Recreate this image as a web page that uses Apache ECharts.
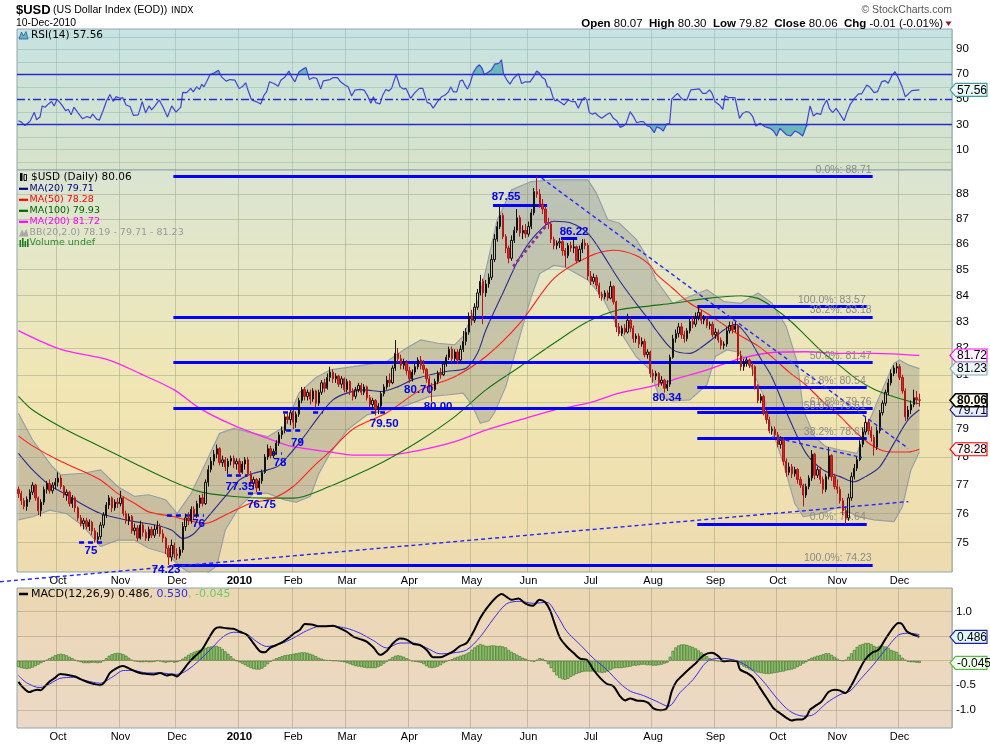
<!DOCTYPE html>
<html>
<head>
<meta charset="utf-8">
<script src="https://cdn.jsdelivr.net/npm/echarts@6.0.0/dist/echarts.min.js"></script>
<style>
html,body{margin:0;padding:0;background:#ffffff;}
#chart{width:990px;height:744px;}
</style>
</head>
<body>
<div id="chart"></div>
<script>
// ---------- time axis (trading-day slots) ----------
const totalSlots = 330;
const monthStarts = [14,36,56,78,97,116,138,160,180,202,224,246,268,289,311];
const monthLabels = ['Oct','Nov','Dec','2010','Feb','Mar','Apr','May','Jun','Jul','Aug','Sep','Oct','Nov','Dec'];

// ---------- tick levels ----------
const priceTicks = [75,76,77,78,79,80,81,82,83,84,85,86,87,88];
const rsiGridLevels = [0,10,20,40,60,80,90,100];
const rsiTickLabels = [10,90];
const rsiBands = [70,50,30];
const macdGridLevels = [-1,-0.5,0,0.5,1];
const macdTickLabels = [1,-0.5,-1];

// ---------- daily candles [open, close, low, high] ----------
const ohlc = [
[76.85,76.70,76.55,76.95],[76.70,76.45,76.30,76.80],[76.45,76.25,76.15,76.55],[76.25,76.50,76.10,76.60],[76.50,76.75,76.40,76.85],
[76.75,77.00,76.65,77.10],[77.00,76.55,76.45,77.05],[76.55,76.10,75.95,76.60],[76.10,76.40,75.90,76.50],[76.40,76.85,76.30,76.95],
[76.85,77.05,76.70,77.15],[77.05,76.80,76.70,77.20],[76.80,77.00,76.70,77.10],[77.00,77.10,76.85,77.25],[77.10,77.25,76.95,77.45],
[77.25,76.95,76.85,77.35],[76.95,76.65,76.55,77.00],[76.65,76.75,76.45,76.85],[76.75,76.35,76.25,76.80],[76.35,76.55,76.20,76.65],
[76.55,76.20,76.05,76.60],[76.20,75.85,75.75,76.25],[75.85,75.65,75.55,75.95],[75.65,75.75,75.45,75.85],[75.75,75.55,75.45,75.85],
[75.55,75.70,75.40,75.80],[75.70,75.40,75.25,75.75],[75.40,75.10,75.00,75.50],[75.10,75.20,75.00,75.35],[75.20,75.60,75.10,75.70],
[75.60,75.95,75.50,76.05],[75.95,76.30,75.85,76.40],[76.30,76.55,76.15,76.65],[76.55,76.20,76.05,76.60],[76.20,76.40,76.10,76.50],
[76.40,76.35,76.20,76.55],[76.35,76.55,76.25,76.80],[76.55,76.00,75.90,76.60],[76.00,75.75,75.65,76.10],[75.75,75.90,75.60,76.00],
[75.90,75.40,75.30,75.95],[75.40,75.50,75.25,75.65],[75.50,75.15,75.05,75.60],[75.15,75.60,75.10,75.75],[75.60,75.35,75.20,75.70],
[75.35,75.15,75.05,75.45],[75.15,75.45,75.05,75.55],[75.45,75.25,75.15,75.55],[75.25,75.45,75.15,75.60],[75.45,75.55,75.30,75.75],
[75.55,75.30,75.20,75.65],[75.30,75.15,75.00,75.45],[75.15,74.80,74.60,75.20],[74.80,74.50,74.23,74.90],[74.50,74.90,74.35,75.10],
[74.90,74.60,74.45,75.00],[74.60,74.55,74.40,74.80],[74.55,74.75,74.45,74.85],[74.75,75.55,74.65,75.70],[75.55,75.85,75.40,76.00],
[75.85,75.75,75.60,76.05],[75.75,76.15,75.65,76.25],[76.15,75.95,75.80,76.25],[75.95,76.35,75.85,76.45],[76.35,76.55,76.20,76.65],
[76.55,76.35,76.25,76.70],[76.35,77.10,76.30,77.20],[77.10,77.55,76.95,77.70],[77.55,77.85,77.45,78.00],[77.85,78.10,77.70,78.25],
[78.10,78.30,77.95,78.45],[78.30,77.80,77.70,78.35],[77.80,77.90,77.65,78.05],[77.90,77.65,77.50,78.00],[77.65,77.85,77.40,77.95],
[77.85,77.95,77.70,78.05],[77.95,77.75,77.60,78.05],[77.75,77.85,77.55,77.95],[77.85,77.45,77.35,77.95],[77.45,77.75,77.40,77.85],
[77.75,77.90,77.55,78.00],[77.90,77.40,77.30,78.00],[77.40,77.05,76.95,77.50],[77.05,77.20,76.85,77.30],[77.20,76.90,76.75,77.25],
[76.90,77.15,76.80,77.25],[77.15,77.45,77.05,77.55],[77.45,78.00,77.40,78.10],[78.00,78.30,77.90,78.45],[78.30,78.05,77.95,78.40],
[78.05,78.20,77.95,78.30],[78.20,78.50,78.10,78.60],[78.50,78.80,78.40,78.90],[78.80,78.95,78.65,79.10],[78.95,79.45,78.85,79.55],
[79.45,79.35,79.20,79.60],[79.35,79.60,79.15,79.70],[79.60,79.25,79.00,79.70],[79.25,79.55,79.05,79.65],[79.55,80.05,79.45,80.15],
[80.05,80.45,79.95,80.55],[80.45,80.20,80.05,80.55],[80.20,80.35,80.05,80.45],[80.35,80.10,79.90,80.45],[80.10,80.40,80.00,80.50],
[80.40,79.95,79.80,80.45],[79.95,80.35,79.85,80.45],[80.35,80.70,80.25,80.80],[80.70,80.50,80.35,80.85],[80.50,80.90,80.45,81.05],
[80.90,81.10,80.75,81.30],[81.10,80.85,80.70,81.20],[80.85,80.95,80.70,81.05],[80.95,80.65,80.55,81.00],[80.65,80.85,80.50,80.95],
[80.85,80.45,80.35,80.90],[80.45,80.75,80.35,80.85],[80.75,80.40,80.25,80.80],[80.40,80.20,80.05,80.50],[80.20,80.45,80.10,80.55],
[80.45,80.60,80.35,80.70],[80.60,80.35,80.25,80.70],[80.35,80.55,80.25,80.65],[80.55,80.15,80.05,80.60],[80.15,79.90,79.80,80.25],
[79.90,80.05,79.75,80.15],[80.05,79.75,79.50,80.10],[79.75,79.85,79.55,79.95],[79.85,80.30,79.80,80.40],[80.30,80.55,80.20,80.65],
[80.55,80.80,80.45,80.95],[80.80,80.70,80.55,81.05],[80.70,81.25,80.65,81.35],[81.25,81.80,81.15,82.30],[81.80,81.60,81.45,82.00],
[81.60,81.35,81.20,81.75],[81.35,81.45,81.20,81.60],[81.45,81.15,81.00,81.55],[81.15,80.85,80.70,81.30],[80.85,81.10,80.75,81.20],
[81.10,81.30,81.00,81.45],[81.30,81.55,81.20,81.65],[81.55,81.35,81.20,81.70],[81.35,81.20,81.05,81.55],[81.20,80.85,80.70,81.25],
[80.85,80.55,80.30,80.95],[80.55,80.45,80.00,80.70],[80.45,80.75,80.40,80.85],[80.75,81.05,80.65,81.15],[81.05,81.00,80.85,81.25],
[81.00,81.40,80.95,81.50],[81.40,81.65,81.30,81.75],[81.65,81.95,81.55,82.05],[81.95,81.60,81.45,82.05],[81.60,81.85,81.50,81.95],
[81.85,81.55,81.40,81.95],[81.55,81.95,81.45,82.10],[81.95,82.25,81.85,82.65],[82.25,82.60,82.10,82.75],[82.60,83.20,82.50,83.35],
[83.20,83.05,82.85,83.45],[83.05,83.55,82.95,83.70],[83.55,84.10,83.45,84.25],[84.10,84.55,84.00,84.80],[84.55,84.10,82.90,84.65],
[84.10,84.45,83.95,84.60],[84.45,84.70,84.30,84.85],[84.70,85.40,84.60,85.60],[85.40,86.20,85.30,86.40],[86.20,86.70,86.10,86.90],
[86.70,87.15,86.60,87.55],[87.15,86.30,86.20,87.25],[86.30,85.85,85.65,86.40],[85.85,85.45,85.25,85.95],[85.45,86.15,85.35,86.35],
[86.15,86.55,86.05,86.70],[86.55,87.05,86.45,87.40],[87.05,86.45,86.30,87.15],[86.45,86.55,86.20,86.75],[86.55,86.40,86.25,86.80],
[86.40,86.70,86.30,86.90],[86.70,87.25,86.60,87.40],[87.25,88.10,87.15,88.25],[88.10,88.00,87.85,88.71],[88.00,87.60,87.45,88.20],
[87.60,87.40,87.20,87.80],[87.40,86.85,86.70,87.50],[86.85,86.80,86.60,87.05],[86.80,86.20,86.05,86.90],[86.20,85.95,85.80,86.30],
[85.95,86.05,85.80,86.15],[86.05,86.10,85.85,86.25],[86.10,85.75,85.55,86.20],[85.75,85.55,85.10,85.85],[85.55,85.95,85.45,86.05],
[85.95,85.85,85.70,86.10],[85.85,85.90,85.65,86.22],[85.90,85.35,85.25,85.95],[85.35,85.80,85.30,85.95],[85.80,86.05,85.65,86.20],
[86.05,85.95,85.80,86.20],[85.95,84.75,84.60,86.05],[84.75,84.55,84.40,84.95],[84.55,84.70,84.45,84.85],[84.70,84.40,84.25,84.80],
[84.40,84.05,83.90,84.50],[84.05,83.95,83.80,84.15],[83.95,84.10,83.85,84.20],[84.10,83.90,83.80,84.20],[83.90,84.35,83.85,84.55],
[84.35,83.75,83.65,84.40],[83.75,82.80,82.60,83.80],[82.80,82.55,82.45,82.95],[82.55,82.75,82.45,82.85],[82.75,82.60,82.50,82.90],
[82.60,83.05,82.55,83.30],[83.05,82.75,82.60,83.15],[82.75,82.35,82.20,82.85],[82.35,82.45,82.20,82.55],[82.45,82.15,82.00,82.55],
[82.15,82.25,82.05,82.40],[82.25,81.75,81.65,82.35],[81.75,81.85,81.60,81.95],[81.85,81.05,80.90,81.90],[81.05,80.95,80.70,81.20],
[80.95,81.05,80.80,81.15],[81.05,80.70,80.55,81.10],[80.70,80.80,80.60,80.95],[80.80,80.50,80.34,80.85],[80.50,80.65,80.40,80.80],
[80.65,81.65,80.55,81.75],[81.65,82.35,81.60,82.50],[82.35,82.55,82.20,82.70],[82.55,82.80,82.40,82.95],[82.80,82.50,82.35,82.95],
[82.50,82.35,82.20,82.65],[82.35,82.65,82.25,82.75],[82.65,83.00,82.55,83.10],[83.00,82.90,82.75,83.20],[82.90,83.20,82.80,83.35],
[83.20,83.35,83.05,83.57],[83.35,83.05,82.90,83.45],[83.05,83.10,82.90,83.25],[83.10,82.85,82.75,83.20],[82.85,82.90,82.70,83.00],
[82.90,82.50,82.40,83.00],[82.50,82.60,82.35,82.75],[82.60,82.30,82.20,82.70],[82.30,82.10,81.95,82.40],[82.10,82.15,81.95,82.25],
[82.15,82.65,82.05,82.80],[82.65,82.85,82.55,83.00],[82.85,82.70,82.55,83.00],[82.70,82.85,82.60,83.00],[82.85,81.70,81.50,82.90],
[81.70,81.30,81.15,81.90],[81.30,81.45,81.15,81.60],[81.45,81.55,81.30,81.65],[81.55,81.35,81.25,81.60],[81.35,81.30,80.95,81.45],
[81.30,80.60,80.45,81.35],[80.60,80.05,79.95,80.65],[80.05,80.20,79.95,80.30],[80.20,79.60,79.50,80.25],[79.60,79.35,79.20,79.70],
[79.35,78.95,78.85,79.45],[78.95,79.00,78.80,79.10],[79.00,78.80,78.70,79.10],[78.80,78.45,78.35,78.90],[78.45,78.60,78.30,78.75],
[78.60,77.85,77.70,78.70],[77.85,77.45,77.30,77.95],[77.45,77.65,77.35,77.80],[77.65,77.40,77.25,77.75],[77.40,77.55,77.30,77.65],
[77.55,77.20,77.05,77.60],[77.20,77.00,76.90,77.30],[77.00,76.65,76.25,77.05],[76.65,76.95,76.55,77.05],[76.95,77.25,76.85,77.35],
[77.25,78.10,77.15,78.25],[78.10,77.35,77.20,78.15],[77.35,77.55,77.25,77.65],[77.55,77.20,77.05,77.65],[77.20,76.85,76.70,77.30],
[76.85,77.30,76.75,77.40],[77.30,78.05,77.20,78.35],[78.05,77.30,77.15,78.10],[77.30,76.95,76.85,77.40],[76.95,76.85,76.70,77.20],
[76.85,76.45,76.35,76.95],[76.45,76.10,75.95,76.55],[76.10,75.85,75.64,76.25],[75.85,76.55,75.75,76.70],[76.55,77.30,76.45,77.45],
[77.30,77.60,77.20,77.75],[77.60,77.90,77.50,78.00],[77.90,78.45,77.85,78.60],[78.45,78.90,78.35,79.05],[78.90,79.25,78.80,79.45],
[79.25,78.95,78.80,79.35],[78.95,78.70,78.55,79.10],[78.70,78.35,78.05,78.80],[78.35,78.95,78.25,79.10],[78.95,79.60,78.85,79.70],
[79.60,79.95,79.50,80.05],[79.95,80.35,79.85,80.45],[80.35,80.70,80.25,80.85],[80.70,81.05,80.60,81.20],[81.05,81.25,80.95,81.35],
[81.25,81.30,81.05,81.45],[81.30,80.90,80.80,81.40],[80.90,80.40,80.30,81.00],[80.40,79.45,79.30,80.50],[79.45,79.70,79.35,79.85],
[79.70,79.90,79.55,80.05],[79.90,80.15,79.80,80.45],[80.15,80.07,79.90,80.40],[80.07,80.06,79.82,80.30]
];

// ---------- overlays: [slot, value] ----------
const ma20 = [[0,78.13],[5,77.54],[11,77.0],[17,76.66],[23,76.30],[29,76.0],[33,75.89],[41,75.72],[48,75.61],[54,75.43],[58,75.14],[62,75.31],[66,75.78],[73,76.60],[78,77.18],[83,77.42],[88,77.54],[92,77.70],[99,78.49],[106,79.46],[111,80.07],[116,80.32],[122,80.44],[128,80.38],[134,80.56],[139,80.81],[145,80.99],[151,81.12],[158,81.24],[162,81.8],[165,82.68],[171,84.10],[177,85.50],[183,86.43],[189,86.91],[195,86.84],[201,86.43],[206,85.65],[212,84.60],[218,83.70],[223,83.0],[225,82.68],[231,81.93],[237,81.80],[243,82.18],[249,82.68],[253,82.9],[257,82.5],[262,81.6],[266,80.9],[272,79.4],[278,78.13],[284,77.54],[290,77.30],[295,77.12],[299,77.30],[304,77.65],[309,78.49],[314,79.34],[318,79.71]];
const ma50 = [[0,78.76],[5,78.40],[14,77.89],[23,77.48],[29,77.18],[35,76.71],[41,76.36],[46,76.06],[55,75.89],[59,75.78],[66,75.66],[73,75.95],[82,76.36],[90,76.54],[97,76.95],[104,77.65],[110,78.2],[118,79.0],[130,79.6],[142,80.44],[154,80.93],[165,81.68],[177,82.94],[189,84.66],[201,85.50],[210,85.76],[218,85.56],[223,85.17],[225,84.85],[231,84.27],[237,83.70],[243,83.32],[249,82.88],[255,82.45],[261,82.08],[266,81.66],[272,81.10],[278,80.61],[284,80.00],[290,79.47],[296,78.85],[302,78.37],[308,78.18],[314,78.18],[318,78.28]];
const ma100 = [[0,80.2],[5,79.7],[17,78.97],[29,78.37],[41,77.77],[52,77.24],[64,76.77],[76,76.60],[88,76.54],[97,76.54],[110,76.96],[123,77.54],[130,77.89],[142,78.61],[154,79.46],[165,80.44],[177,81.30],[189,82.18],[201,83.00],[212,83.45],[223,83.60],[231,83.70],[243,83.89],[255,83.99],[261,83.89],[266,83.57],[272,83.07],[278,82.45],[284,81.83],[290,81.33],[296,80.83],[302,80.46],[308,80.22],[314,80.03],[318,79.93]];
const ma200 = [[0,82.66],[15,81.95],[32,81.55],[43,81.04],[55,80.44],[64,79.76],[76,79.14],[88,78.67],[97,78.37],[110,78.18],[118,78.07],[130,78.07],[142,78.25],[154,78.55],[165,78.97],[177,79.34],[189,79.70],[201,79.95],[212,80.32],[223,80.56],[231,80.81],[243,81.18],[255,81.61],[267,81.84],[278,81.86],[290,81.80],[302,81.80],[318,81.72]];
const bbUpper = [[0,79.58],[5,78.61],[12,77.65],[15,77.36],[23,77.42],[29,77.54],[35,76.95],[41,76.60],[46,76.66],[52,76.48],[56,76.0],[61,76.71],[66,77.77],[71,78.85],[76,79.03],[83,78.85],[88,78.73],[94,79.10],[99,80.32],[105,80.9],[110,81.18],[118,81.30],[130,81.49],[136,81.93],[142,82.31],[148,82.18],[154,82.12],[157,82.45],[162,83.70],[165,84.99],[169,86.97],[174,88.17],[181,88.51],[189,88.58],[201,88.58],[204,88.04],[208,86.97],[212,86.84],[218,86.2],[221,85.65],[225,84.60],[231,83.70],[237,83.96],[243,84.22],[249,83.77],[255,83.70],[261,84.10],[266,83.70],[271,82.81],[275,81.43],[277,79.70],[281,78.73],[285,78.37],[290,78.25],[296,78.13],[299,78.97],[304,80.22],[309,81.43],[311,81.55],[314,81.37],[318,81.23]];
const bbLower = [[0,75.78],[5,75.89],[11,76.12],[17,76.0],[23,75.55],[29,74.86],[35,75.08],[41,75.08],[46,74.80],[52,74.63],[58,74.12],[64,73.75],[70,74.2],[73,75.43],[78,76.24],[83,76.71],[88,76.71],[94,76.48],[98,76.4],[103,76.60],[106,77.4],[110,78.13],[116,78.97],[123,79.52],[130,79.70],[134,79.76],[139,79.95],[145,80.19],[151,80.25],[157,80.32],[160,79.90],[163,79.22],[166,79.3],[168,79.6],[172,80.56],[177,82.45],[181,83.96],[184,84.85],[189,85.17],[193,85.10],[201,84.60],[206,83.96],[212,82.68],[218,81.68],[223,81.18],[226,80.22],[231,80.03],[237,80.07],[243,80.63],[246,81.68],[250,81.93],[254,81.85],[258,81.43],[263,80.22],[266,78.97],[270,77.77],[274,76.36],[277,75.89],[283,76.0],[290,76.24],[296,75.9],[302,75.78],[309,75.72],[312,76.24],[315,77.54],[318,78.19]];

// ---------- RSI(14) ----------
const rsi14 = [[0,32.9],[1.1,31.8],[2.3,29],[4.1,32.4],[5.6,39.7],[6.4,33.7],[7.6,35.8],[8.4,44.7],[9.4,43.7],[10.6,46.3],[11.7,48.2],[12.6,44.7],[13.7,50],[15.3,45.5],[16.7,40.8],[17.6,42],[18.6,37.6],[19.6,43.7],[21.1,39],[22.6,34.5],[24.3,36.3],[25.3,35],[26.2,38.2],[27.6,34.2],[28.6,33.4],[30,41.6],[31.1,48.7],[32.3,53.9],[33.5,48.2],[34.4,52.1],[35.9,50.8],[36.8,51.3],[38,45.5],[39.4,44.2],[40.6,37.1],[42.3,37.6],[43.7,48.2],[44.9,39],[46.1,44.7],[47,41.6],[48.2,44.7],[49.7,49.5],[51.1,43.4],[52.6,35.8],[54.1,44.7],[55.6,39.7],[57.3,43.7],[58,55.5],[59.4,55.3],[60.8,58.7],[61.7,56],[62.9,60],[63.9,57.9],[64.7,62.1],[65.5,60],[66.4,64],[67.6,69.7],[69,71],[70.6,73.2],[71.7,67.9],[73.3,64.5],[74.7,65.8],[76.4,65.3],[77.9,58.7],[79,60],[80.2,63.2],[81.1,56.8],[82.3,49.5],[83.9,48.2],[85.5,46.3],[86.7,53.4],[87.6,56],[88.6,64],[90.2,62.6],[91.7,60.5],[92.6,65.3],[94.1,67.9],[95.5,72.6],[96.4,67.9],[97.6,64],[99,71.8],[100.6,74.5],[101.5,75.3],[102.7,65.8],[104.1,67.4],[105.3,66.6],[106.7,58.2],[107.6,64.7],[110,65.8],[111.1,67.4],[112.6,67.4],[113.7,64],[115.3,61.3],[116.4,60],[117.6,52.6],[118.8,57.4],[120.6,57.9],[122,57.4],[123.1,53.4],[124.4,46.8],[125.3,52.1],[126.1,47.4],[127.6,46.3],[128.6,53.4],[129.7,57.9],[130.7,56.6],[131.7,58.7],[133.3,69.7],[134.7,60],[135.9,58.2],[136.8,58.7],[138.4,50.8],[140,55.5],[141.5,58.7],[142.7,58.7],[144.3,47.4],[145.3,46.8],[146.4,42.9],[147.9,48.2],[149.4,52.1],[150.6,53.4],[151.8,56],[152.6,60],[153.5,56],[154.7,56],[155.9,64.7],[156.8,65.3],[157.6,61.3],[158.5,58.2],[159.4,62.6],[160.6,71.8],[161.8,75.8],[162.7,77.6],[163.6,75],[164.5,69.7],[165.9,71.8],[167,73.7],[168.2,78.4],[169,78.4],[169.8,79.2],[170.5,81.6],[171.2,70.5],[172.3,65.8],[173.5,62.1],[174.7,66.6],[176.5,70.5],[177.6,62.6],[178.8,63.9],[180.6,63.9],[181.8,67.9],[182.9,72.6],[183.9,71],[184.7,67.9],[185.9,65.8],[186.7,60],[187.6,59.5],[188.6,52.1],[189.4,48.7],[190.2,49.5],[190.9,50],[191.8,46.8],[192.6,45.5],[194.1,49.5],[195.3,48.2],[196.5,48.2],[197.6,42.9],[198.8,48.9],[199.8,51.6],[200.6,49.5],[201.5,39.3],[202.7,38],[203.5,39.3],[204.7,36.7],[205.9,34.8],[207.4,37.5],[208.8,39.3],[210,34.8],[211.2,32.9],[212.4,27.6],[213.5,28.7],[214.5,30.8],[215.9,40.1],[217.1,36.1],[218.2,31.3],[219.4,32.1],[220.6,32.1],[221.8,28.9],[222.9,28.1],[224.4,23.3],[225.3,28.1],[226.5,26.8],[227.6,24.7],[228.8,30.3],[229.8,30.3],[230.6,50.3],[232.6,54.8],[233.5,52.1],[234.7,49.5],[235.9,49.5],[237.3,57.5],[238.8,58],[240.3,58.3],[241.5,54.8],[242.7,54.8],[243.9,57.5],[244.7,55.3],[245.9,48.1],[247.4,45.5],[248.6,42],[249.4,52.9],[250.6,51.3],[251.8,51.3],[252.9,51.3],[254.5,34.8],[255.6,38.8],[256.8,40.1],[258,39.6],[259.2,36.1],[260.3,28.7],[261.8,30.8],[263.5,28.1],[265.3,26.8],[266.5,24.7],[267.6,20.7],[268.8,26.8],[270,24.1],[271.2,21.5],[272.6,20.7],[274.1,24.7],[275.6,22.8],[276.8,20.7],[278,28.1],[278.7,28.1],[279.4,44.7],[280.6,36.7],[281.8,38.8],[283.2,38],[284.1,44.7],[285.3,49.5],[286.2,42.8],[287.4,39.3],[288.6,42.8],[289.8,38.8],[291.4,32.9],[292.3,38.8],[293.5,45.5],[294.9,50.3],[296.5,54.3],[297.6,54.3],[299.4,61.5],[300.6,59.6],[302,55.3],[303.2,56.1],[304.7,64.1],[305.9,64.9],[307,62.8],[308.2,68.7],[309.4,72.1],[310.6,66.8],[311.8,60.7],[313,52.1],[314.1,54.3],[315.3,56.9],[318,57.56]];

// ---------- MACD(12,26,9) ----------
const macdLine = [[0,-0.43],[1.7,-0.55],[3.9,-0.64],[5.3,-0.61],[6.7,-0.59],[7.9,-0.6],[9.4,-0.52],[11.1,-0.42],[12.9,-0.35],[14.7,-0.27],[16.4,-0.28],[18.2,-0.3],[20,-0.32],[21.7,-0.37],[24.1,-0.43],[26.4,-0.47],[28.8,-0.5],[30.6,-0.42],[32.3,-0.25],[34.7,-0.15],[36.8,-0.11],[38.8,-0.15],[40.6,-0.2],[42.9,-0.25],[45.3,-0.27],[47.6,-0.28],[50,-0.25],[52.3,-0.3],[54.1,-0.28],[55.9,-0.32],[57.6,-0.23],[60,-0.05],[62.3,0.09],[64.7,0.22],[67,0.44],[69.4,0.65],[71.1,0.68],[73.5,0.66],[75.9,0.65],[78.2,0.59],[80.6,0.53],[82.9,0.36],[85.3,0.19],[87,0.17],[88.8,0.26],[91.1,0.32],[93.5,0.39],[95.9,0.49],[97.6,0.57],[99.4,0.63],[101.1,0.75],[103.5,0.74],[105.9,0.7],[108.2,0.7],[111.1,0.71],[113.5,0.66],[115.9,0.59],[118.2,0.49],[120.6,0.44],[122.9,0.39],[125.3,0.27],[127.6,0.12],[130,0.2],[132.3,0.36],[134.7,0.45],[137,0.43],[139.4,0.34],[141.7,0.32],[144.1,0.22],[146.4,0.07],[148.8,0.07],[151.1,0.12],[153.5,0.19],[155.9,0.3],[158.2,0.36],[160.6,0.59],[162.9,0.86],[165.3,1.07],[168.2,1.27],[170.6,1.36],[172.3,1.3],[174.1,1.24],[176.5,1.27],[178.8,1.17],[181.5,1.12],[183.9,1.24],[185.9,1.19],[187.6,1.03],[189.4,0.73],[191.2,0.46],[193.5,0.29],[195.9,0.16],[198.2,0.04],[200.6,0.02],[202.9,-0.18],[205.3,-0.35],[207.6,-0.47],[210,-0.52],[212.3,-0.72],[214.1,-0.81],[215.9,-0.77],[218.2,-0.81],[220.6,-0.82],[222.3,-0.86],[224.1,-0.97],[226.5,-1.01],[228.8,-0.97],[230.6,-0.62],[232.3,-0.42],[234.7,-0.28],[237.1,-0.15],[239.4,-0.03],[241.8,0.11],[244.7,0.16],[247.1,0.09],[248.8,-0.01],[251.2,0],[253.5,-0.01],[254.7,-0.18],[257.1,-0.25],[259.4,-0.35],[261.8,-0.56],[264.1,-0.76],[266.5,-0.97],[268.8,-1.07],[271.2,-1.17],[272.9,-1.22],[274.7,-1.2],[276.5,-1.2],[278.2,-1.13],[279.4,-1.0],[281.8,-0.9],[283.5,-0.83],[285.9,-0.64],[288.2,-0.59],[290,-0.61],[291.8,-0.66],[294.1,-0.49],[296.5,-0.22],[298.8,0.02],[301.2,0.16],[303.5,0.22],[305.9,0.43],[308.2,0.63],[310.6,0.77],[311.8,0.75],[313.5,0.6],[315.3,0.54],[318,0.486]];
const signalLine = [[0,-0.3],[2.9,-0.45],[7.6,-0.55],[11.1,-0.47],[14.7,-0.36],[19.4,-0.34],[24.1,-0.41],[28.8,-0.46],[33.5,-0.32],[37,-0.2],[40.6,-0.2],[45.3,-0.25],[50,-0.25],[55.9,-0.28],[59.4,-0.2],[64.1,0.02],[68.8,0.29],[72.3,0.49],[75.9,0.58],[80.6,0.54],[84.1,0.39],[87.6,0.29],[92.3,0.34],[97,0.46],[101.7,0.61],[106.4,0.7],[111.1,0.7],[115.9,0.66],[120.6,0.56],[125.3,0.41],[130,0.26],[134.7,0.36],[139.4,0.36],[144.1,0.26],[148.8,0.14],[153.5,0.16],[158.2,0.22],[162.9,0.48],[167.6,0.85],[172.3,1.16],[177,1.21],[181.7,1.17],[186.5,1.19],[190,0.94],[193.5,0.6],[198.2,0.33],[202.9,0.05],[207.6,-0.18],[212.3,-0.46],[215.9,-0.62],[220.6,-0.71],[225.3,-0.83],[229.4,-0.93],[233.5,-0.65],[238.2,-0.38],[243,-0.02],[247.6,0.05],[253.5,0],[258.2,-0.15],[262.9,-0.42],[267.6,-0.76],[272.3,-1.03],[277,-1.13],[280.6,-1.1],[285.3,-0.86],[290,-0.69],[293.5,-0.62],[297,-0.39],[301.8,-0.08],[306.5,0.26],[311.2,0.54],[314.7,0.56],[318,0.53]];
const macdHist = [
-0.13,-0.15,-0.16,-0.17,-0.16,-0.14,-0.11,-0.08,-0.05,-0.02,
0.02,0.05,0.08,0.11,0.13,0.14,0.13,0.11,0.08,0.05,
0.02,-0.01,-0.03,-0.05,-0.05,-0.05,-0.04,-0.04,-0.05,-0.04,
0.0,0.05,0.1,0.13,0.15,0.16,0.15,0.13,0.1,0.06,
0.02,-0.01,-0.02,-0.03,-0.03,-0.02,-0.03,-0.03,-0.02,0.0,
-0.01,-0.03,-0.04,-0.03,-0.02,-0.04,-0.03,0.0,0.04,0.08,
0.12,0.15,0.18,0.2,0.22,0.24,0.26,0.28,0.29,0.3,
0.3,0.28,0.24,0.19,0.14,0.09,0.04,0.0,-0.03,-0.06,
-0.09,-0.12,-0.15,-0.17,-0.18,-0.18,-0.16,-0.12,-0.07,-0.02,
0.02,0.05,0.07,0.09,0.11,0.12,0.13,0.14,0.15,0.16,
0.17,0.17,0.16,0.14,0.12,0.09,0.06,0.04,0.02,0.01,
0.01,0.0,0.0,-0.01,-0.02,-0.03,-0.05,-0.07,-0.09,-0.11,
-0.12,-0.13,-0.14,-0.15,-0.15,-0.15,-0.15,-0.13,-0.1,-0.06,
-0.02,0.03,0.07,0.1,0.11,0.1,0.08,0.05,0.02,-0.01,
-0.02,-0.03,-0.04,-0.07,-0.11,-0.14,-0.15,-0.14,-0.12,-0.09,
-0.05,-0.02,0.01,0.03,0.06,0.08,0.1,0.12,0.14,0.17,
0.22,0.27,0.31,0.34,0.32,0.3,0.3,0.31,0.31,0.3,
0.3,0.29,0.27,0.22,0.18,0.15,0.12,0.09,0.06,0.04,
0.01,-0.01,-0.02,0.02,0.05,0.04,0.0,-0.07,-0.15,-0.23,
-0.3,-0.35,-0.38,-0.39,-0.37,-0.33,-0.3,-0.27,-0.25,-0.23,
-0.22,-0.22,-0.22,-0.22,-0.23,-0.24,-0.25,-0.24,-0.22,-0.19,
-0.16,-0.15,-0.15,-0.15,-0.14,-0.13,-0.12,-0.1,-0.1,-0.09,
-0.08,-0.08,-0.09,-0.09,-0.1,-0.1,-0.09,-0.08,-0.06,-0.04,
0.08,0.2,0.27,0.31,0.33,0.33,0.32,0.3,0.28,0.25,
0.21,0.17,0.13,0.09,0.05,0.02,0.0,-0.01,-0.02,0.0,
0.01,0.02,0.01,0.0,-0.04,-0.08,-0.12,-0.15,-0.18,-0.2,
-0.22,-0.24,-0.25,-0.26,-0.27,-0.27,-0.26,-0.25,-0.24,-0.23,
-0.22,-0.2,-0.19,-0.18,-0.16,-0.13,-0.1,-0.06,-0.03,0.03,
0.06,0.08,0.1,0.11,0.13,0.15,0.15,0.12,0.08,0.04,
0.01,0.0,0.02,0.08,0.15,0.22,0.28,0.32,0.34,0.36,
0.36,0.34,0.3,0.28,0.3,0.3,0.29,0.26,0.22,0.2,
0.18,0.12,0.06,0.02,-0.02,-0.03,-0.03,-0.04,-0.045
];

// ---------- annotations ----------
const fibLong = [88.71,83.18,81.47,79.76,74.23];
const fibLongPct = ['0.0%','38.2%','50.0%','61.8%','100.0%'];
const fibLongSpan = [54.7,301.5];
const fibShort = [83.57,80.54,79.61,78.67,75.64];
const fibShortPct = ['100.0%','61.8%','50.0%','38.2%','0.0%'];
const fibShortSpan = [239.6,299.4];
const pivotLines = [[87.55,167.5,186.6],[86.22,191.5,197.2]];
const supportDashes = [[75.00,21.4,30.6],[75.93,52.4,65.5],[77.36,73.6,80.7],[76.72,81.0,87.0],[78.13,89.5,93.0],[78.97,94.5,100.1],[79.61,93.4,96.9],[79.61,104,107.5],[79.61,124.5,129.4]];
const trendLines = [[-6.5,73.66,314.1,76.42],[184.7,88.65,314,78.31],[265.9,78.72,297.7,77.98]];
const channelLine = [174.6,85.13,188,86.97];
const pointLabels = [['75',25.6,74.72],['74.23',52.1,74.08],['76',63.6,75.64],['77.35',78.2,76.94],['76.75',85.8,76.29],['78',92.3,77.79],['79',98.5,78.52],['79.50',129.1,79.19],['80.70',141.2,80.44],['80.00',148.1,79.82],['87.55',172.1,87.90],['86.22',196.1,86.49],['80.34',228.9,80.14]];

// ---------- build ----------
const AX = 'Liberation Sans, Arial, sans-serif';
const LG = 'DejaVu Sans, Verdana, sans-serif';
const cats = Array.from({length: totalSlots}, (_, k) => 'd' + k);
const monthMap = new Map(monthStarts.map((s, k) => [s, monthLabels[k]]));
const isMonth = (idx) => monthMap.has(idx);
const last = a => a[a.length - 1];

function grad(stops){
  return {type:'linear', x:0, y:0, x2:0, y2:1, colorStops: stops.map(s => ({offset:s[0], color:s[1]}))};
}
function catAxis(g, showLabel, gridColor){
  return {
    type:'category', gridIndex:g, data:cats, boundaryGap:true,
    axisLine:{show:false}, axisTick:{show:false},
    axisLabel:{show:showLabel, interval:(i)=>isMonth(i), margin:3, color:'#000', fontSize:11, fontFamily:AX,
      formatter:(v, i)=>{ const m = monthMap.get(i) || ''; return m === '2010' ? '{b|2010}' : m; },
      rich:{b:{fontWeight:'bold', fontSize:11.5, color:'#000', fontFamily:AX}}},
    splitLine:{show:true, interval:(i)=>isMonth(i), lineStyle:{color:gridColor, width:1}}
  };
}
function valAxis(g){ return {type:'value', gridIndex:g, min:-0.5, max:totalSlots - 0.5, show:false}; }
function clampPath(pts, yL, keepAbove){
  const inside = y => keepAbove ? y < yL : y > yL;
  const out = [];
  for (let k = 0; k < pts.length; k++){
    const p = pts[k];
    if (k > 0){
      const q = pts[k-1];
      if (inside(p[1]) !== inside(q[1])){
        const t = (yL - q[1]) / (p[1] - q[1]);
        out.push([q[0] + t * (p[0] - q[0]), yL]);
      }
    }
    out.push([p[0], inside(p[1]) ? p[1] : yL]);
  }
  return out;
}
const tickLabel = {show:true, position:'end', distance:4, color:'#000', fontSize:11.5, fontFamily:AX};
const gridRSI = 'rgba(120,160,150,0.35)';
const gridPX = 'rgba(140,150,115,0.40)';
const gridMD = 'rgba(150,135,105,0.40)';

const rsiMarks = rsiGridLevels.map(v => ({yAxis:v, lineStyle:{color:gridRSI, width:1, type:'solid'},
  label: Object.assign({}, tickLabel, {show: rsiTickLabels.includes(v), formatter: String(v)})}));
rsiBands.forEach(v => rsiMarks.push({yAxis:v, lineStyle:{color:'#2a2ad0', width:1.4, type: v === 50 ? [8,3,2,3] : 'solid'},
  label: Object.assign({}, tickLabel, {formatter:String(v)})}));

const priceMarks = priceTicks.map(v => ({yAxis:v, lineStyle:{color:gridPX, width:1, type:'solid'},
  label: Object.assign({}, tickLabel, {formatter:String(v)})}));

const macdMarks = macdGridLevels.map(v => ({yAxis:v, lineStyle:{color:gridMD, width:1, type:'solid'},
  label: Object.assign({}, tickLabel, {show: macdTickLabels.includes(v), formatter: v.toFixed(1)})}));

const fibLabel = (txt) => ({show:true, position:'insideEndTop', distance:1, color:'#8a8a8a', fontSize:10.5, fontFamily:AX, formatter:txt});
const annoMarks = [];
fibLong.forEach((v, k) => annoMarks.push([
  {coord:[fibLongSpan[0], v], lineStyle:{color:'#0000ff', width:3, type:'solid'}, label:fibLabel(fibLongPct[k] + ': ' + v.toFixed(2))},
  {coord:[fibLongSpan[1], v]}]));
fibShort.forEach((v, k) => annoMarks.push([
  {coord:[fibShortSpan[0], v], lineStyle:{color:'#0000ff', width:3, type:'solid'}, label:fibLabel(fibShortPct[k] + ': ' + v.toFixed(2))},
  {coord:[fibShortSpan[1], v]}]));
pivotLines.forEach(p => annoMarks.push([
  {coord:[p[1], p[0]], lineStyle:{color:'#0000ff', width:3, type:'solid'}, label:{show:false}},
  {coord:[p[2], p[0]]}]));
supportDashes.forEach(p => annoMarks.push([
  {coord:[p[1], p[0]], lineStyle:{color:'#0000ff', width:2.5, type:[5,4]}, label:{show:false}},
  {coord:[p[2], p[0]]}]));

const option = {
  animation:false,
  backgroundColor:'#ffffff',
  grid:[
    {left:17, top:29, width:935, height:141, show:true, backgroundColor:grad([[0,'#c6e3e2'],[1,'#d8e3c9']]), borderColor:'#8ea6ad', borderWidth:1, outerBoundsMode:'none'},
    {left:17, top:170, width:935, height:402, show:true, backgroundColor:grad([[0,'#dae4d2'],[0.25,'#e6e7c5'],[0.55,'#f1e6b3'],[1,'#eedbaf']]), borderColor:'#8ea6ad', borderWidth:1, outerBoundsMode:'none'},
    {left:17, top:588, width:935, height:140, show:true, backgroundColor:grad([[0,'#ecd7b2'],[1,'#ebd9c7']]), borderColor:'#8ea6ad', borderWidth:1, outerBoundsMode:'none'}
  ],
  xAxis:[catAxis(0,false,gridRSI), valAxis(0), catAxis(1,true,gridPX), valAxis(1), catAxis(2,true,gridMD), valAxis(2)],
  yAxis:[
    {gridIndex:0, type:'value', min:-6.5, max:106.2, show:false},
    {gridIndex:1, type:'log', logBase:10, min:73.99, max:88.98, show:false},
    {gridIndex:2, type:'value', min:-1.372, max:1.482, show:false}
  ],
  series:[
    // RSI panel
    {type:'line', xAxisIndex:1, yAxisIndex:0, data:[[-20,50]], symbol:'none', lineStyle:{opacity:0}, silent:true, z:1,
      markLine:{silent:true, symbol:'none', animation:false, data:rsiMarks}},
    {type:'custom', xAxisIndex:1, yAxisIndex:0, data:[[0,50]], silent:true, z:2,
      renderItem:(params, api) => {
        const pts = rsi14.map(p => api.coord(p));
        const y70 = api.coord([0,70])[1], y30 = api.coord([0,30])[1];
        const a = clampPath(pts, y70, true), b = clampPath(pts, y30, false);
        const x0 = pts[0][0], x1 = last(pts)[0];
        return {type:'group', children:[
          {type:'polygon', shape:{points:a.concat([[x1,y70],[x0,y70]])}, style:{fill:'#6ab9b9'}},
          {type:'polygon', shape:{points:b.concat([[x1,y30],[x0,y30]])}, style:{fill:'#6ab9b9'}}
        ]};
      }},
    {type:'line', xAxisIndex:1, yAxisIndex:0, data:rsi14, symbol:'none', silent:true, z:3, lineStyle:{color:'#4141d8', width:1.2}},

    // Price panel
    {type:'line', xAxisIndex:3, yAxisIndex:1, data:[[-20,80]], symbol:'none', lineStyle:{opacity:0}, silent:true, z:1,
      markLine:{silent:true, symbol:'none', animation:false, data:priceMarks}},
    {type:'custom', xAxisIndex:3, yAxisIndex:1, data:[[0,80]], silent:true, z:2,
      renderItem:(params, api) => {
        const cs = params.coordSys;
        const bottom = cs.y + cs.height;
        const up = bbUpper.map(p => api.coord(p));
        const lo = clampPath(bbLower.map(p => api.coord(p)), bottom, true);
        return {type:'polygon', shape:{points:up.concat(lo.reverse())}, style:{fill:'rgba(98,104,116,0.27)'}};
      }},
    {type:'line', xAxisIndex:3, yAxisIndex:1, data:bbUpper, symbol:'none', silent:true, z:3, lineStyle:{color:'#98a0a6', width:1.2}},
    {type:'line', xAxisIndex:3, yAxisIndex:1, data:bbLower, symbol:'none', silent:true, z:3, lineStyle:{color:'#98a0a6', width:1.2}},
    {type:'line', xAxisIndex:3, yAxisIndex:1, data:ma200, symbol:'none', silent:true, z:4, smooth:0.3, lineStyle:{color:'#ff22ff', width:1.3}},
    {type:'line', xAxisIndex:3, yAxisIndex:1, data:ma100, symbol:'none', silent:true, z:4, smooth:0.3, lineStyle:{color:'#127312', width:1.1}},
    {type:'line', xAxisIndex:3, yAxisIndex:1, data:ma50, symbol:'none', silent:true, z:4, smooth:0.3, lineStyle:{color:'#ff2020', width:1.1}},
    {type:'line', xAxisIndex:3, yAxisIndex:1, data:ma20, symbol:'none', silent:true, z:4, smooth:0.3, lineStyle:{color:'#2c2c8e', width:1.1}},
    {type:'candlestick', xAxisIndex:2, yAxisIndex:1, data:ohlc, silent:true, z:5, barWidth:1.7,
      itemStyle:{color:'rgba(0,0,0,0)', color0:'#d22828', borderColor:'#111111', borderColor0:'#b31616', borderColorDoji:'#111111', borderWidth:1}},
    {type:'line', xAxisIndex:3, yAxisIndex:1, data:[[-20,80]], symbol:'none', lineStyle:{opacity:0}, silent:true, z:6,
      markLine:{silent:true, symbol:'none', animation:false, label:{show:false}, data:annoMarks}},

    // MACD panel
    {type:'line', xAxisIndex:5, yAxisIndex:2, data:[[-20,0]], symbol:'none', lineStyle:{opacity:0}, silent:true, z:1,
      markLine:{silent:true, symbol:'none', animation:false, data:macdMarks}},
    {type:'bar', xAxisIndex:4, yAxisIndex:2, data:macdHist, silent:true, z:2, barCategoryGap:'0%',
      itemStyle:{color:'#91c76c', borderColor:'#3d6d2b', borderWidth:0.6}},
    {type:'line', xAxisIndex:5, yAxisIndex:2, data:signalLine, symbol:'none', silent:true, z:3, smooth:0.3, lineStyle:{color:'#3b2cf2', width:1}},
    {type:'line', xAxisIndex:5, yAxisIndex:2, data:macdLine, symbol:'none', silent:true, z:4, smooth:0.3, lineStyle:{color:'#000000', width:2}}
  ]
};

const chart = echarts.init(document.getElementById('chart'), null, {renderer:'canvas', width:990, height:744});
chart.setOption(option);

// ---------- text, legends, tags, drawn lines ----------
const G = [];
function txt(x, y, text, font, fill, align, extra){
  G.push({type:'text', x:x, y:y, silent:true, z:100, style:Object.assign({text:text, font:font, fill:fill,
    textAlign:align || 'left', align:align || 'left', textVerticalAlign:'middle', verticalAlign:'middle'}, extra || {})});
}
function dash(x1, x2, y, color, w){
  G.push({type:'line', silent:true, z:100, shape:{x1:x1, y1:y, x2:x2, y2:y}, style:{stroke:color, lineWidth:w || 2}});
}
const lastBar = last(ohlc), prevBar = ohlc[ohlc.length - 2];
const chg = lastBar[1] - prevBar[1];
const chgPct = chg / prevBar[1] * 100;
const f2 = v => v.toFixed(2);

// header
txt(16, 10, '$USD', 'bold 13px ' + AX, '#000');
txt(53, 10.5, '(US Dollar Index (EOD))', '10.6px ' + AX, '#000');
txt(171, 11, 'INDX', '9px ' + LG, '#000');
txt(16, 23.5, '10-Dec-2010', '10.4px ' + AX, '#000');
txt(952, 10.5, '\u00A9 StockCharts.com', '10.5px ' + AX, '#555', 'right');
txt(943, 23.5, '{b|Open} ' + f2(lastBar[0]) + '  {b|High} ' + f2(lastBar[3]) + '  {b|Low} ' + f2(lastBar[2]) +
  '  {b|Close} ' + f2(lastBar[1]) + '  {b|Chg} ' + f2(chg) + ' (' + f2(chgPct) + '%)', '11.5px ' + AX, '#000', 'right',
  {rich:{b:{font:'bold 11.5px ' + AX, fill:'#000'}}});
G.push({type:'polygon', silent:true, z:100, shape:{points:[[945.5,21.5],[951.5,21.5],[948.5,26]]}, style:{fill:'#8e1b2e'}});

// RSI legend
G.push({type:'polygon', silent:true, z:100, shape:{points:[[19,39],[21.5,32],[23.5,36],[26,31.5],[28,39]]}, style:{fill:'#66b6b6', stroke:'#2a58a8', lineWidth:0.8}});
txt(31, 35.5, 'RSI(14) ' + f2(last(rsi14)[1]), '10.5px ' + LG, '#000');

// price legend
G.push({type:'rect', silent:true, z:100, shape:{x:20, y:173, width:2.5, height:8}, style:{fill:'#000'}});
G.push({type:'rect', silent:true, z:100, shape:{x:24, y:174.5, width:2.5, height:6}, style:{fill:'none', stroke:'#000', lineWidth:1}});
txt(31, 177.5, '$USD (Daily) ' + f2(lastBar[1]), '10.5px ' + LG, '#000');
const lg = [
  ['MA(20) ' + f2(last(ma20)[1]), '#000080', 188.8],
  ['MA(50) ' + f2(last(ma50)[1]), '#ff0000', 199.8],
  ['MA(100) ' + f2(last(ma100)[1]), '#006400', 210.8],
  ['MA(200) ' + f2(last(ma200)[1]), '#ff00ff', 221.8]
];
lg.forEach(r => { dash(19, 28, r[2], r[1], 2.2); txt(29.5, r[2], r[0], '9.5px ' + LG, r[1]); });
G.push({type:'polygon', silent:true, z:100, shape:{points:[[19,236.5],[22,229.5],[24,233],[26.5,229],[28.5,236.5]]}, style:{fill:'#a8a8a8'}});
txt(29.5, 232.6, 'BB(20,2.0) ' + f2(last(bbLower)[1]) + ' - ' + f2(last(ma20)[1]) + ' - ' + f2(last(bbUpper)[1]), '9.5px ' + LG, '#999999');
[[19.5,240,7],[22,238,9],[24.5,241,6],[27,239,8]].forEach(b => G.push({type:'rect', silent:true, z:100, shape:{x:b[0], y:b[1], width:1.6, height:b[2]}, style:{fill:'#1f7a1f'}}));
txt(29.5, 243, 'Volume undef', '9.5px ' + LG, '#2a8a2a');

// MACD legend
dash(19, 28, 594, '#000', 2.5);
txt(31, 594, '{k|MACD(12,26,9) ' + last(macdLine)[1].toFixed(3) + '}{s|, ' + last(signalLine)[1].toFixed(3) + '}{h|, ' + last(macdHist).toFixed(3) + '}',
  '11px ' + LG, '#000', 'left',
  {rich:{k:{font:'11px ' + LG, fill:'#000'}, s:{font:'11px ' + LG, fill:'#2a2af0'}, h:{font:'11px ' + LG, fill:'#6acc6a'}}});

// drawn trend lines
const P = (xa, ya, pt) => chart.convertToPixel({xAxisIndex:xa, yAxisIndex:ya}, pt);
trendLines.forEach(t => {
  const a = P(3, 1, [t[0], t[1]]), b = P(3, 1, [t[2], t[3]]);
  G.push({type:'line', silent:true, z:60, shape:{x1:a[0], y1:a[1], x2:b[0], y2:b[1]}, style:{stroke:'#2626ff', lineWidth:1.4, lineDash:[4,3]}});
});
{
  const a = P(3, 1, [channelLine[0], channelLine[1]]), b = P(3, 1, [channelLine[2], channelLine[3]]);
  G.push({type:'line', silent:true, z:60, shape:{x1:a[0], y1:a[1], x2:b[0], y2:b[1]}, style:{stroke:'#8c2a9a', lineWidth:2.6, lineDash:[3,3]}});
}
pointLabels.forEach(p => {
  const q = P(3, 1, [p[1], p[2]]);
  txt(q[0], q[1], p[0], 'bold 11.5px ' + AX, '#0000ee', 'center');
});

// right-edge value tags
function tag(y, text, stroke, fill, bold){
  G.push({type:'polygon', silent:true, z:110, shape:{points:[[950,y],[955.5,y-6.5],[987,y-6.5],[987,y+6.5],[955.5,y+6.5]]},
    style:{fill:fill, stroke:stroke, lineWidth:bold ? 1.6 : 1.1}});
  G.push({type:'text', silent:true, z:111, x:957, y:y + 0.5, style:{text:text, font:(bold ? 'bold ' : '') + '12px ' + AX, fill:'#000',
    textAlign:'left', align:'left', textVerticalAlign:'middle', verticalAlign:'middle'}});
}
const Y = (axis, v) => chart.convertToPixel({yAxisIndex:axis}, v);
tag(Y(0, last(rsi14)[1]), f2(last(rsi14)[1]), '#3f9c9c', '#eaf8f8', false);
tag(Y(1, last(ma200)[1]), f2(last(ma200)[1]), '#ff00ff', '#fff2ff', false);
tag(Y(1, last(bbUpper)[1]), f2(last(bbUpper)[1]), '#8aa6b6', '#eef6fa', false);
tag(Y(1, last(ma50)[1]), f2(last(ma50)[1]), '#ff0000', '#fff2f2', false);
tag(Y(1, last(ma20)[1]), f2(last(ma20)[1]), '#000080', '#e6eeff', false);
tag(Y(1, lastBar[1]), f2(lastBar[1]), '#000000', '#fffbea', true);
tag(Y(2, last(macdLine)[1]), last(macdLine)[1].toFixed(3), '#1e1e9e', '#e0f6fb', false);
tag(Y(2, last(macdHist)), last(macdHist).toFixed(3), '#5cb844', '#f2fff0', false);

chart.setOption({graphic:G});
</script>
</body>
</html>
